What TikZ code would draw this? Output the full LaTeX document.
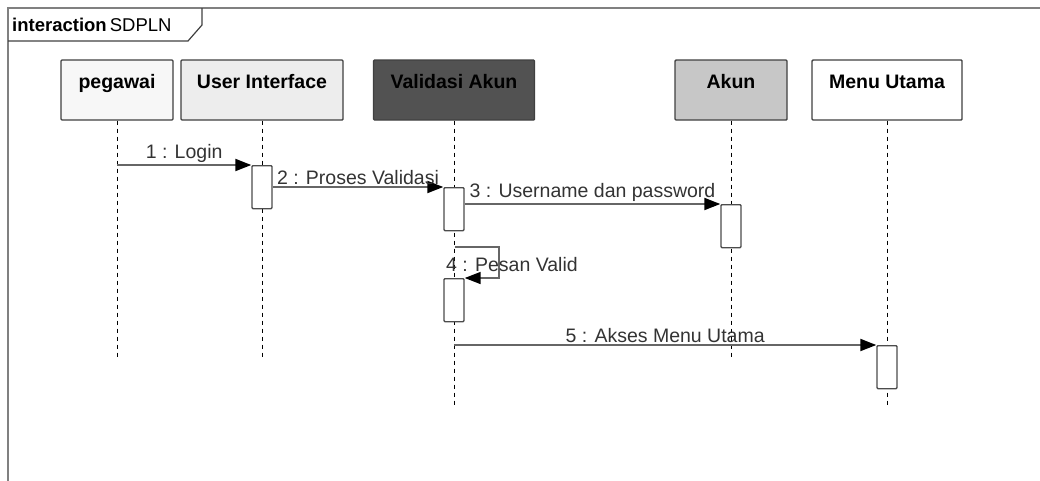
\documentclass[tikz,border=0pt]{standalone}
\usepackage{fontspec}
\setmainfont{Liberation Sans}
\usetikzlibrary{arrows.meta}

\begin{document}
\begin{tikzpicture}[x=1pt,y=-1pt,
    head/.style={draw=black!75,line width=1.4pt,rounded corners=1pt,minimum width=#1,minimum height=60pt,
      font=\fontsize{19.5}{22}\selectfont\bfseries,text depth=17pt},
    life/.style={dash pattern=on 4pt off 4pt,line width=1pt},
    act/.style={draw=black!70,fill=white,line width=1.4pt,rounded corners=1pt,minimum width=20pt,minimum height=43pt,inner sep=0pt},
    msg/.style={draw=black!60,line width=2pt,-{Triangle[length=16pt,width=12pt]},arrows={[black]}},
    lbl/.style={text=black!80,font=\fontsize{19.5}{22}\selectfont,inner sep=1pt}]

    \useasboundingbox (0,0) rectangle (1040,480);

    % frame
    \draw[black!50,line width=2.5pt] (1042,8) -- (8,8) -- (8,482);
    \draw[black!75,line width=1.2pt] (8,41) -- (188,41) -- (202,25) -- (202,8);
    \node[anchor=west,inner sep=0pt] (frm) at (12,25) {\fontsize{18.5}{21}\selectfont\bfseries interaction\mdseries\,SDPLN};

    % heads
    \node[head=112pt,fill=black!3] (peg) at (117,90) {pegawai};
    \node[head=162pt,fill=black!7] (ui) at (262,90) {User Interface};
    \node[head=161pt,fill=black!68] (val) at (454,90) {Validasi Akun};
    \node[head=112pt,fill=black!22] (akun) at (731,90) {Akun};
    \node[head=150pt,fill=white] (menu) at (887,90) {Menu Utama};

    % lifelines
    \coordinate (pegE) at (117,360);
    \coordinate (uiE) at (262,360);
    \coordinate (valE) at (454,406);
    \coordinate (akunE) at (731,360);
    \coordinate (menuE) at (887,406);
    \draw[life] (peg.south) -- (pegE);
    \draw[life] (ui.south) -- (uiE);
    \draw[life] (val.south) -- (valE);
    \draw[life] (akun.south) -- (akunE);
    \draw[life] (menu.south) -- (menuE);

    % activations
    \node[act,anchor=north] (a1) at (262,165) {};
    \node[act,anchor=north] (a2) at (454,187) {};
    \node[act,anchor=north] (a3) at (731,204) {};
    \node[act,anchor=north] (a4) at (454,278) {};
    \node[act,anchor=north] (a5) at (887,345) {};

    % messages
    \coordinate (m1) at (117,165);
    \coordinate (m5) at (454,345);
    \coordinate (s1) at (455,247);
    \draw[msg] (m1) -- (a1.north west) node[lbl,midway,above] {1 : Login};
    \draw[msg] (a1.east |- a2.north) -- (a2.north west) node[lbl,midway,above] {2 : Proses Validasi};
    \draw[msg] (a2.east |- a3.north) -- (a3.north west) node[lbl,midway,above] {3 : Username dan password};
    \draw[msg,line width=1.6pt] (s1) -- (499,247) -- (499,278) -- (a4.north east);
    \node[lbl,anchor=west] (l4) at (445,265) {4 : Pesan Valid};
    \draw[msg] (m5) -- (a5.north west) node[lbl,midway,above] {5 : Akses Menu Utama};
\end{tikzpicture}
\end{document}
